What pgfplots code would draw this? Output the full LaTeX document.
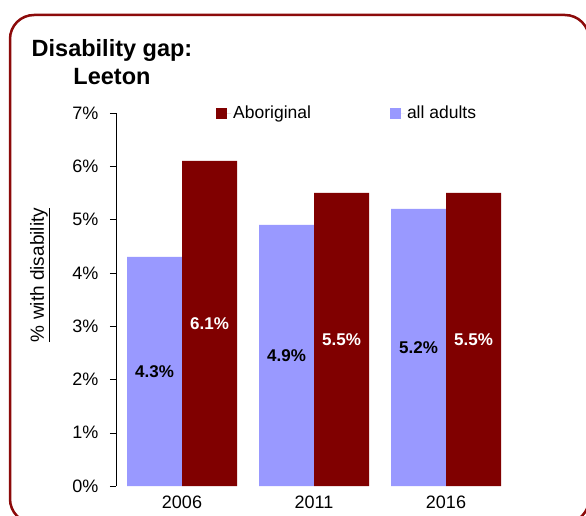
\documentclass[border=0pt]{standalone}
\usepackage{fontspec}
\setmainfont{Liberation Sans}
\usepackage{pgfplots}
\pgfplotsset{compat=1.18}
\usepackage{pgfplotstable}
\definecolor{abor}{RGB}{128,0,0}
\definecolor{alladults}{RGB}{153,153,255}
\definecolor{frame}{RGB}{140,10,10}

\pgfplotstableread{
x v
0 4.3
1 4.9
2 5.2
}\adults
\pgfplotstableread{
x v
0 6.1
1 5.5
2 5.5
}\abor

\begin{document}
\begin{tikzpicture}
\draw[frame, line width=2.5pt, rounded corners=24pt] (10pt,500pt) rectangle (589pt,-8pt);
\node[font=\fontsize{23.5}{28}\selectfont\bfseries, anchor=base] at (112pt,458pt) {Disability gap:};
\node[font=\fontsize{23.5}{28}\selectfont\bfseries, anchor=base] at (112pt,430pt) {Leeton};
\node[rotate=90, font=\fontsize{19}{22}\selectfont] at (40pt,240pt) {\underline{\% with disability}};
\begin{axis}[
 at={(116pt,29pt)}, anchor=south west,
 scale only axis, width=396pt, height=373pt,
 xmin=-0.5, xmax=2.5, ymin=0, ymax=7,
 axis lines*=left, x axis line style={draw=none},
 xtick={0,1,2}, xticklabels={2006,2011,2016}, xtick style={draw=none},
 ytick={0,...,7}, yticklabel={\pgfmathprintnumber{\tick}\%},
 yticklabel style={xshift=-8pt},
 tick align=outside, major tick length=6pt,
 ytick style={black},
 tick label style={font=\fontsize{18}{21}\selectfont},
 /pgf/number format/assume math mode=true,
 legend columns=2, reverse legend,
 legend style={draw=none, fill=none, at={([xshift=-1pt]0.255,1)}, anchor=west, inner sep=0pt,
   font=\fontsize{17.5}{20}\selectfont,
   /tikz/every even column/.append style={column sep=77pt}},
 legend image code/.code={\fill[#1] (0pt,-5.5pt) rectangle (11pt,5.5pt); \path (0pt,0pt) -- (15pt,0pt);},
]
\addplot[ybar, bar width=55pt, bar shift=-27.5pt, fill=alladults, draw=none] table[x=x,y=v]{\adults};
\addlegendentry{all adults}
\addplot[ybar, bar width=55pt, bar shift=27.5pt, fill=abor, draw=none] table[x=x,y=v]{\abor};
\addlegendentry{Aboriginal}
\addplot[draw=none, mark=none, forget plot, point meta=explicit,
  nodes near coords={\pgfmathprintnumber[fixed,fixed zerofill,precision=1]{\pgfplotspointmeta}\%},
  nodes near coords style={anchor=center, xshift=-27.5pt, font=\bfseries\fontsize{17}{20}\selectfont, text=black}]
  table[x=x, y expr=\thisrow{v}/2, meta=v]{\adults};
\addplot[draw=none, mark=none, forget plot, point meta=explicit,
  nodes near coords={\pgfmathprintnumber[fixed,fixed zerofill,precision=1]{\pgfplotspointmeta}\%},
  nodes near coords style={anchor=center, xshift=27.5pt, font=\bfseries\fontsize{17}{20}\selectfont, text=white}]
  table[x=x, y expr=\thisrow{v}/2, meta=v]{\abor};
\end{axis}
\pgfresetboundingbox
\path[use as bounding box] (0,0) rectangle (586pt,515pt);
\end{tikzpicture}
\end{document}
